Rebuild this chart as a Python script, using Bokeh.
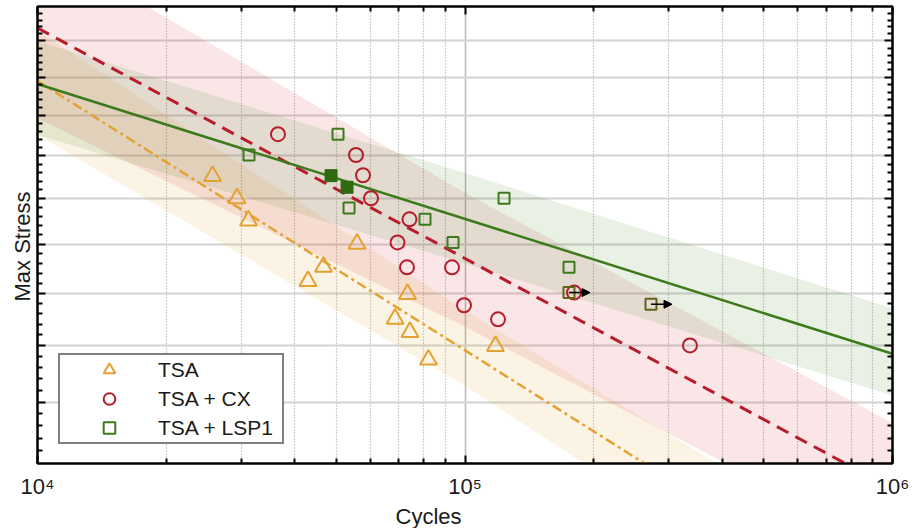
from bokeh.plotting import figure
from bokeh.models import (LogAxis, FixedTicker, Range1d, Legend, LegendItem, Title,
                          Arrow, NormalHead, ColumnDataSource, CustomJSTickFormatter)
from bokeh.embed import file_html
from bokeh.resources import INLINE

# ---------------- data ----------------
tsa_cycles = [25670, 29290, 31160, 55900, 46670, 42920, 73370, 68610, 74340, 82140, 117830]
tsa_stress = [165.2, 160.1, 155.1, 150.1, 145.3, 142.4, 139.8, 135.0, 132.5, 127.4, 129.9]

cx_cycles = [36520, 55590, 57730, 60280, 74150, 69530, 73160, 93240, 99470, 119460, 179900, 335900]
cx_stress = [175.3, 170.2, 165.4, 160.1, 155.4, 150.4, 145.2, 145.2, 137.6, 134.9, 140.1, 130.0]

lsp_cycles = [31240, 50460, 53550, 80620, 93750, 123400, 175100]
lsp_stress = [170.2, 175.3, 157.9, 155.4, 150.4, 160.1, 145.2]
lsp_filled_cycles = [48600, 52970]
lsp_filled_stress = [165.3, 162.6]
runout_cycles = [175100, 272300]
runout_stress = [140.1, 137.8]
runout_arrow_factor = 1.12

# power-law fits: stress = s0 * (N / 1e4) ** b
fit_ref_cycles = 1e4
fit_cycles = [1e4, 1e6]
tsa_fit = (189.0, -0.1655)
cx_fit = (203.7, -0.1416)
lsp_fit = (188.2, -0.0829)

# scatter bands
band_cycles = [1e4, 1e5, 1e6]
tsa_band_upper = [202.9, 136.6, 94.6]
tsa_band_lower = [175.1, 122.8, 82.7]
cx_band_upper = [230.0, 161.3, 116.5]
cx_band_lower = [179.3, 133.5, 97.2]
lsp_band_upper = [200.0, 165.9, 137.0]
lsp_band_lower = [175.1, 146.0, 121.1]

x_major = [1e4, 1e5, 1e6]
x_minor = [m * d for d in (1e4, 1e5) for m in range(2, 10)]
x_labels = {10000: "10\u2074", 100000: "10\u2075", 1000000: "10\u2076"}
y_major = [120, 130, 140, 150, 160, 170, 180, 190, 200]
y_minor = [v for v in range(110, 212, 2) if v % 10 != 0]

ORANGE = "#E3A232"
RED = "#B71C2B"
GREEN = "#3C7A1C"
OLIVE = "#626219"
FONT = "Liberation Sans"
TEXT = "#1a1a1a"

p = figure(width=912, height=528, x_axis_type="log", y_axis_type="log",
           x_range=Range1d(1e4, 1e6), y_range=Range1d(110, 210),
           output_backend="svg", toolbar_location=None,
           min_border_left=37, min_border_right=20, min_border_top=6,
           min_border_bottom=62)
p.outline_line_color = "black"
p.outline_line_width = 2
p.background_fill_color = "white"
p.border_fill_color = "white"

xt = FixedTicker(ticks=x_major, minor_ticks=x_minor)
yt = FixedTicker(ticks=y_major, minor_ticks=y_minor)
blank = CustomJSTickFormatter(code="return ''")

p.xaxis.ticker = xt
p.yaxis.ticker = yt
p.xgrid.ticker = xt
p.ygrid.ticker = yt

p.xgrid.grid_line_color = "#b8b8b8"
p.xgrid.grid_line_width = 1.5
p.xgrid.minor_grid_line_color = "#a0a0a0"
p.xgrid.minor_grid_line_dash = "1 2"
p.xgrid.minor_grid_line_width = 1.2
p.ygrid.grid_line_color = "#d2d2d2"
p.ygrid.grid_line_width = 2

def style_axis(ax):
    ax.axis_line_color = "black"
    ax.axis_line_width = 2
    ax.major_tick_in = 8
    ax.major_tick_out = 0
    ax.minor_tick_in = 5
    ax.minor_tick_out = 0
    ax.major_tick_line_width = 2
    ax.minor_tick_line_width = 2
    ax.major_tick_line_color = "black"
    ax.minor_tick_line_color = "black"

for ax in (p.xaxis[0], p.yaxis[0]):
    style_axis(ax)

p.xaxis.major_label_overrides = x_labels
p.xaxis.major_label_text_font = FONT
p.xaxis.major_label_text_font_size = "22px"
p.xaxis.major_label_text_color = TEXT
p.xaxis.major_label_standoff = 10

p.yaxis.formatter = blank
p.yaxis.major_label_standoff = 0

top = LogAxis(ticker=xt, formatter=blank, major_label_standoff=0)
right = LogAxis(ticker=yt, formatter=blank, major_label_standoff=0)
style_axis(top)
style_axis(right)
p.add_layout(top, "above")
p.add_layout(right, "right")

# axis titles (as titles so they can sit where the reference puts them)
p.add_layout(Title(text="Cycles", align="left", offset=358, standoff=0,
                   text_font=FONT, text_font_size="22px", text_font_style="normal",
                   text_color=TEXT), "below")
p.add_layout(Title(text="Max Stress", align="left", offset=162, standoff=5,
                   text_font=FONT, text_font_size="22px", text_font_style="normal",
                   text_color=TEXT), "left")

# ---------------- bands ----------------
p.varea(x=band_cycles, y1=tsa_band_lower, y2=tsa_band_upper, fill_color=ORANGE, fill_alpha=0.13)
p.varea(x=band_cycles, y1=cx_band_lower, y2=cx_band_upper, fill_color="#d8303a", fill_alpha=0.12)
p.varea(x=band_cycles, y1=lsp_band_lower, y2=lsp_band_upper, fill_color="#4a8a2a", fill_alpha=0.12)

# ---------------- fit lines ----------------
def fit_line(params):
    s0, b = params
    return [s0 * (n / fit_ref_cycles) ** b for n in fit_cycles]

p.line(fit_cycles, fit_line(cx_fit), line_color=RED, line_width=3, line_dash="13 8")
p.line(fit_cycles, fit_line(tsa_fit), line_color=ORANGE, line_width=2.5, line_dash="10 4 3 4")
p.line(fit_cycles, fit_line(lsp_fit), line_color=GREEN, line_width=2.5)

# ---------------- points ----------------
r_tsa = p.scatter(tsa_cycles, tsa_stress, marker="triangle", size=17, fill_color=None,
                  line_color=ORANGE, line_width=2)
r_cx = p.scatter(cx_cycles, cx_stress, marker="circle", size=14, fill_color=None,
                 line_color=RED, line_width=2)
r_lsp = p.scatter(lsp_cycles, lsp_stress, marker="square", size=11, fill_color=None,
                  line_color=GREEN, line_width=2)
p.scatter(lsp_filled_cycles, lsp_filled_stress, marker="square", size=12, fill_color="#2f6a12",
          line_color="#2f6a12", line_width=1)
p.scatter(runout_cycles, runout_stress, marker="square", size=11, fill_color=None,
          line_color=OLIVE, line_width=2)

arrow_src = ColumnDataSource(data=dict(
    x0=runout_cycles,
    x1=[c * runout_arrow_factor for c in runout_cycles],
    y=runout_stress))
p.add_layout(Arrow(end=NormalHead(size=8, fill_color="black", line_color="black"),
                   x_start="x0", y_start="y", x_end="x1", y_end="y",
                   source=arrow_src, line_color="black", line_width=1.5))

# ---------------- legend ----------------
legend = Legend(items=[LegendItem(label="TSA", renderers=[r_tsa]),
                       LegendItem(label="TSA + CX", renderers=[r_cx]),
                       LegendItem(label="TSA + LSP1", renderers=[r_lsp])],
                location=(21, 19))
legend.border_line_color = "black"
legend.border_line_width = 2
legend.background_fill_color = "white"
legend.background_fill_alpha = 1
legend.label_text_font = FONT
legend.label_text_font_size = "21px"
legend.label_text_color = TEXT
legend.padding = 0
legend.margin = 0
legend.glyph_width = 98
legend.glyph_height = 29
legend.label_height = 29
legend.spacing = 0
legend.label_standoff = 0
legend.label_width = 124
p.add_layout(legend)

open("out.html", "w").write(file_html(p, INLINE))
